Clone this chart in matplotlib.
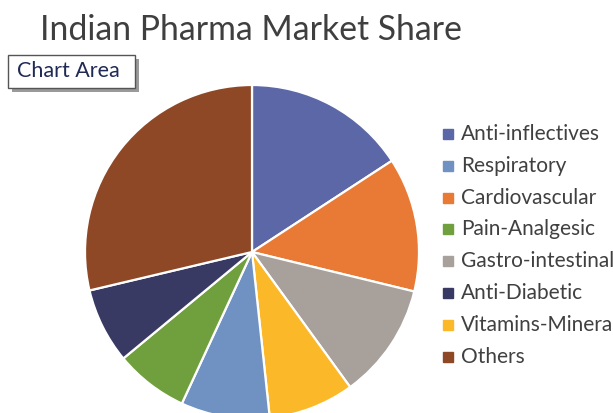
import matplotlib
matplotlib.use("Agg")
import matplotlib.pyplot as plt
from matplotlib.patches import Rectangle

# data, in the order the slices go round the pie (clockwise from 12 o'clock)
slice_labels = ["Anti-inflectives", "Cardiovascular", "Gastro-intestinal", "Vitamins-Minerals",
                "Respiratory", "Pain-Analgesic", "Anti-Diabetic", "Others"]
slice_shares = [15.8, 13.0, 11.2, 8.3, 8.6, 7.1, 7.3, 28.7]
slice_colors = ["#5B67A6", "#E87A35", "#A8A09B", "#FBB829",
                "#6F92C2", "#6FA03D", "#393A63", "#8E4826"]

# legend lists the series in another order
legend_order = ["Anti-inflectives", "Respiratory", "Cardiovascular", "Pain-Analgesic",
                "Gastro-intestinal", "Anti-Diabetic", "Vitamins-Minerals", "Others"]

W, H = 613, 413
fig = plt.figure(figsize=(W / 100, H / 100), dpi=100)
fig.patch.set_facecolor("white")

def fx(px):
    return px / W

def fy(py):
    return 1 - py / H

# pie: centre ~ (252, 252) px, radius ~167 px
cx, cy, r = 252, 252, 167
ax = fig.add_axes([fx(cx - r), fy(cy + r), 2 * r / W, 2 * r / H])
ax.pie(slice_shares, colors=slice_colors, startangle=90, counterclock=False,
       wedgeprops=dict(edgecolor="white", linewidth=1.6))
ax.set_xlim(-1, 1)
ax.set_ylim(-1, 1)
ax.set_aspect("auto")
ax.axis("off")

font = "Lato"
fig.text(fx(40), fy(30), "Indian Pharma Market Share", fontsize=24.3, color="#3F3F3F",
         family=font, va="center", ha="left")

# legend, drawn by hand so it can run off the right edge like the screenshot
color_of = dict(zip(slice_labels, slice_colors))
y0, step = 134, 31.8
for i, name in enumerate(legend_order):
    y = y0 + i * step
    fig.patches.append(Rectangle((fx(443), fy(y + 5)), 10 / W, 10 / H,
                                 transform=fig.transFigure, color=color_of[name]))
    fig.text(fx(461), fy(y), name, fontsize=15, color="#404040", family=font,
             va="center", ha="left")

# "Chart Area" hover tip
fig.patches.append(Rectangle((fx(12), fy(92)), 127 / W, 33 / H, transform=fig.transFigure,
                             facecolor="#9A9A9A", edgecolor="none", zorder=5))
fig.patches.append(Rectangle((fx(8), fy(88)), 127 / W, 33 / H, transform=fig.transFigure,
                             facecolor="white", edgecolor="#555555", linewidth=1, zorder=6))
fig.text(fx(17), fy(71), "Chart Area", fontsize=15.5, color="#1F2A55", family=font,
         va="center", ha="left", zorder=7)

fig.savefig("out.png", dpi=100)
